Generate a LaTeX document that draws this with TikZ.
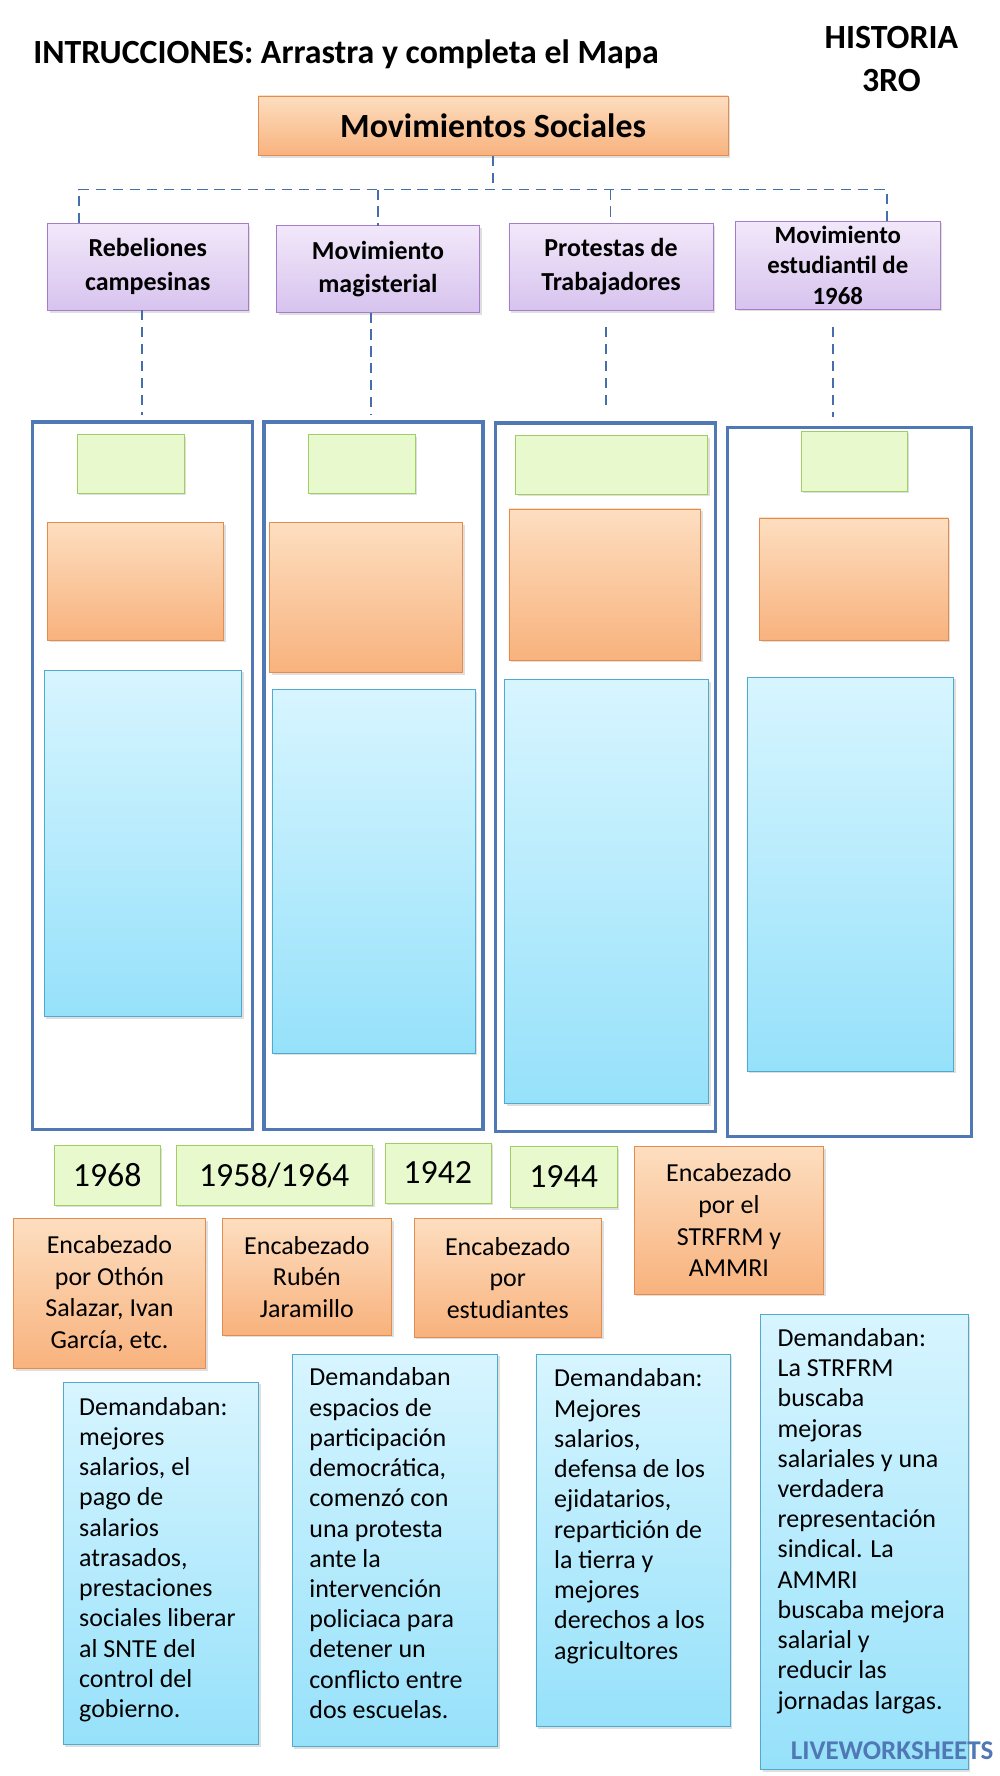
\documentclass[tikz,border=0pt]{standalone}
\usepackage{fontspec}
\setmainfont{Carlito}
\usetikzlibrary{shadows}
\definecolor{orF1}{RGB}{253,222,192}\definecolor{orF2}{RGB}{248,178,125}\definecolor{orD}{RGB}{228,140,80}
\definecolor{grF}{RGB}{232,250,205}\definecolor{grD}{RGB}{160,205,100}
\definecolor{puF1}{RGB}{242,232,250}\definecolor{puF2}{RGB}{215,195,238}\definecolor{puD}{RGB}{165,125,200}
\definecolor{cyF1}{RGB}{215,245,255}\definecolor{cyF2}{RGB}{150,225,250}\definecolor{cyD}{RGB}{80,170,205}
\definecolor{blD}{RGB}{80,120,180}\definecolor{dsh}{RGB}{70,110,170}
\tikzset{
 base/.style={inner sep=2pt,align=center,font=\fontsize{23}{28}\selectfont,drop shadow={opacity=0.25,shadow xshift=2pt,shadow yshift=-2pt}},
 orb/.style={base,draw=orD,top color=orF1,bottom color=orF2},
 grb/.style={base,draw=grD,fill=grF},
 pub/.style={base,draw=puD,top color=puF1,bottom color=puF2,font=\bfseries\fontsize{23}{30}\selectfont},
 cyb/.style={base,draw=cyD,top color=cyF1,bottom color=cyF2},
 frame/.style={draw=blD,line width=3pt},
 dl/.style={dsh,line width=1.5pt,dash pattern=on 9pt off 6pt},
 tx/.style={anchor=north west,align=left,inner sep=0pt,font=\fontsize{23}{26.8}\selectfont}
}
\newcommand\bx[7]{\node[#1,minimum width={(#4-#2)*1pt},minimum height={(#5-#3)*1pt}] (#6) at ({(#2+#4)/2},{(#3+#5)/2}) {#7};}
\begin{document}
\begin{tikzpicture}[x=1pt,y=-1pt]
\useasboundingbox[fill=white] (0,0) rectangle (886,1574);
\node[anchor=west,font=\bfseries\fontsize{30}{34}\selectfont] (title) at (26,48) {INTRUCCIONES: Arrastra y completa el Mapa};
\node[align=center,font=\bfseries\fontsize{30}{38}\selectfont] (hist) at (790,52) {HISTORIA\\3RO};
\bx{orb,font=\bfseries\fontsize{30}{34}\selectfont}{229}{85}{645}{138}{ms}{Movimientos Sociales}
\bx{pub}{42}{198}{220}{275}{p1}{Rebeliones\\campesinas}
\bx{pub}{245}{200}{425}{277}{p2}{Movimiento\\magisterial}
\bx{pub}{451}{198}{632}{275}{p3}{Protestas de\\Trabajadores}
\bx{pub,font=\bfseries\fontsize{22}{27}\selectfont}{652}{196}{833}{274}{p4}{Movimiento\\estudiantil de\\1968}
\coordinate (h0) at (437,168);
\draw[dl] (ms.south -| h0) -- (h0);
\draw[dl] (70,198) -- (70,168) -- (786,168) -- (786,196);
\draw[dl] (335,168) -- (335,200);
\draw[dl] (541,168) -- (541,198);
\draw[dl] (126,275) -- (126,368);
\draw[dl] (329,277) -- (329,368);
\draw[dl] (537,290) -- (537,360);
\draw[dl] (738,290) -- (738,370);
\draw[frame] (29,374) rectangle (224,1001);
\draw[frame] (234,374) rectangle (428,1001);
\draw[frame] (439,375) rectangle (634,1003);
\draw[frame] (645,379) rectangle (861,1007);
\bx{grb}{68}{385}{163}{437}{g1}{}
\bx{grb}{273}{385}{368}{437}{g2}{}
\bx{grb}{457}{386}{627}{438}{g3}{}
\bx{grb}{710}{382}{804}{435}{g4}{}
\bx{orb}{42}{463}{198}{567}{o1}{}
\bx{orb}{239}{463}{410}{596}{o2}{}
\bx{orb}{451}{451}{621}{585}{o3}{}
\bx{orb}{673}{459}{840}{567}{o4}{}
\bx{cyb}{39}{594}{214}{901}{c1}{}
\bx{cyb}{241}{611}{421}{933}{c2}{}
\bx{cyb}{447}{602}{628}{978}{c3}{}
\bx{cyb}{662}{600}{845}{949}{c4}{}
\bx{grb,font=\fontsize{30}{34}\selectfont}{48}{1015}{142}{1068}{y1}{1968}
\bx{grb,font=\fontsize{30}{34}\selectfont}{156}{1015}{330}{1068}{y2}{1958/1964}
\bx{grb,font=\fontsize{30}{34}\selectfont}{341}{1013}{435}{1066}{y3}{1942}
\bx{grb,font=\fontsize{30}{34}\selectfont}{452}{1016}{547}{1070}{y4}{1944}
\bx{orb}{562}{1016}{730}{1147}{e1}{Encabezado\\por el\\STRFRM y\\AMMRI}
\bx{orb}{12}{1080}{182}{1213}{e2}{Encabezado\\por Othón\\Salazar, Ivan\\García, etc.}
\bx{orb}{197}{1080}{347}{1183}{e3}{Encabezado\\Rubén\\Jaramillo}
\bx{orb}{367}{1080}{533}{1185}{e4}{Encabezado\\por\\estudiantes}
\bx{cyb}{56}{1225}{229}{1546}{d1}{}
\bx{cyb}{259}{1200}{441}{1548}{d2}{}
\bx{cyb}{475}{1200}{647}{1530}{d3}{}
\bx{cyb}{674}{1165}{858}{1568}{d4}{}
\node[tx] (t1) at (70,1238) {Demandaban:\\mejores\\salarios, el\\pago de\\salarios\\atrasados,\\prestaciones\\sociales liberar\\al SNTE del\\control del\\gobierno.};
\node[tx] (t2) at (274,1212) {Demandaban\\espacios de\\participación\\democrática,\\comenzó con\\una protesta\\ante la\\intervención\\policiaca para\\detener un\\conflicto entre\\dos escuelas.};
\node[tx] (t3) at (491,1213) {Demandaban:\\Mejores\\salarios,\\defensa de los\\ejidatarios,\\repartición de\\la tierra y\\mejores\\derechos a los\\agricultores};
\node[tx] (t4) at (689,1177) {Demandaban:\\La STRFRM\\buscaba\\mejoras\\salariales y una\\verdadera\\representación\\sindical. La\\AMMRI\\buscaba mejora\\salarial y\\reducir las\\jornadas largas.};
\node[anchor=east,font=\bfseries\fontsize{24}{26}\selectfont,text=blD] (logo) at (884,1552) {LIVEWORKSHEETS};
\end{tikzpicture}
\end{document}
